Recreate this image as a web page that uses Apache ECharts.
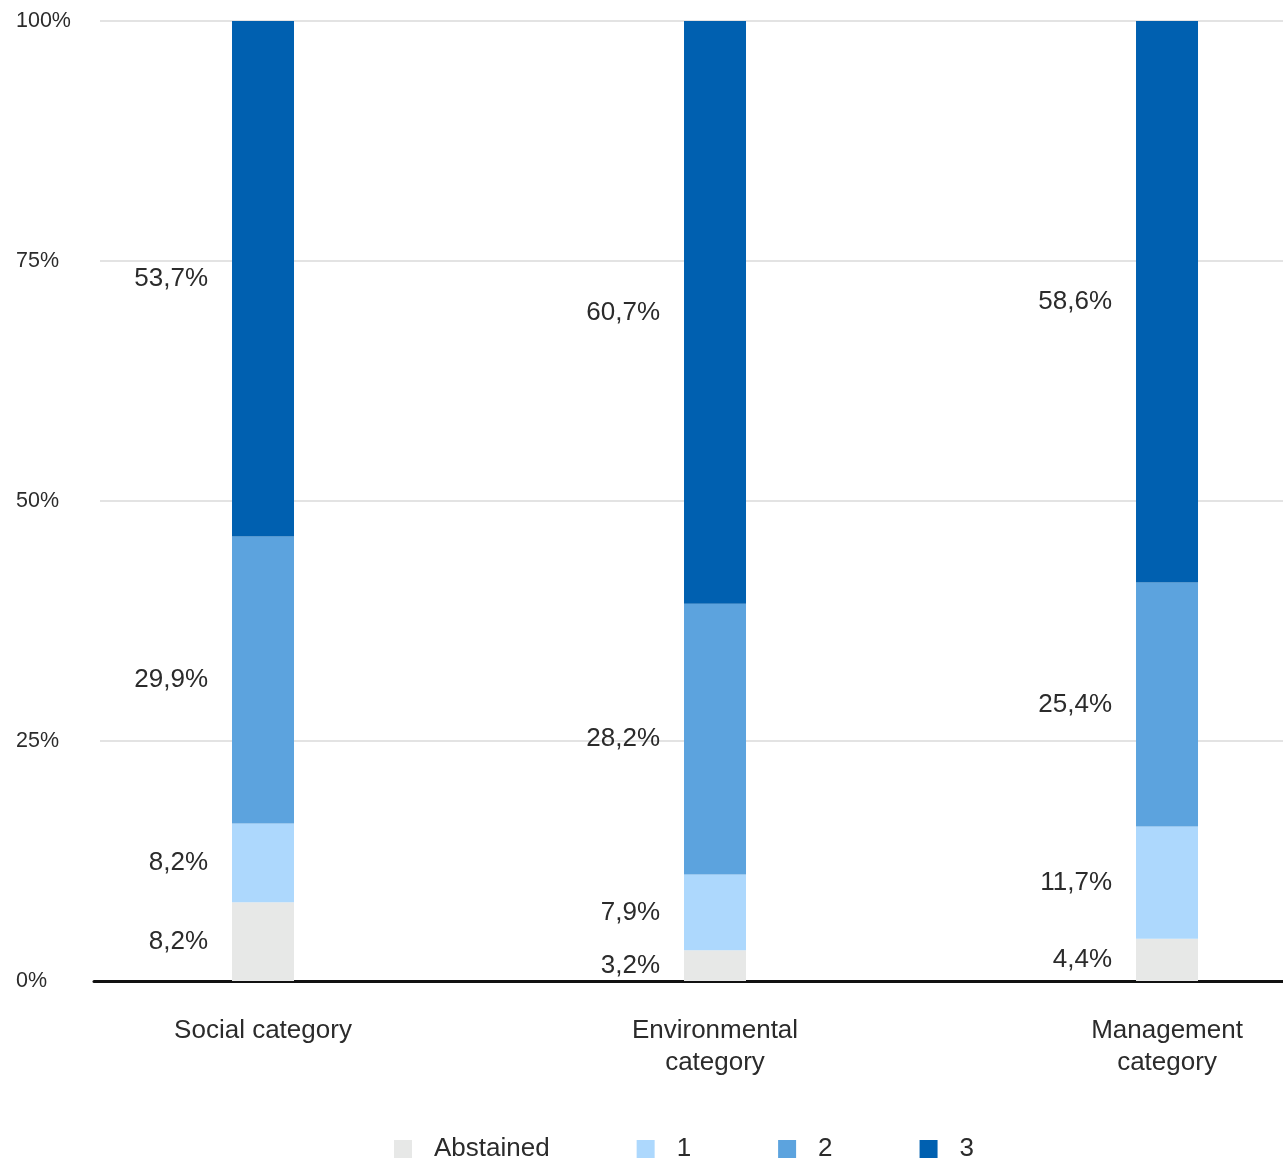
<!DOCTYPE html>
<html>
<head>
<meta charset="utf-8">
<script src="https://cdn.jsdelivr.net/npm/echarts@6/dist/echarts.min.js"></script>
<style>
  html, body { margin: 0; padding: 0; background: #ffffff; }
  #chart { width: 1283px; height: 1158px; }
</style>
</head>
<body>
<div id="chart"></div>
<script>
// Categories and stacked shares (percent)
const categories = ['Social category', 'Environmental\ncategory', 'Management\ncategory'];
const seriesNames = ['Abstained', '1', '2', '3'];
const abstained = [8.2, 3.2, 4.4];
const score1 = [8.2, 7.9, 11.7];
const score2 = [29.9, 28.2, 25.4];
const score3 = [53.7, 60.7, 58.6];
const yTicks = [0, 25, 50, 75, 100];

const colors = ['#e7e8e7', '#add8fd', '#5ca3de', '#0060b0'];
const FONT = '"Liberation Sans", Arial, sans-serif';
const TEXT = '#2b2b2b';

const values = [abstained, score1, score2, score3];

const chart = echarts.init(document.getElementById('chart'), null, { renderer: 'canvas' });

// Each point is [share, category position]; the share column comes first so
// it is the dimension that gets stacked.
const series = seriesNames.map((name, i) => ({
  name: name,
  type: 'bar',
  stack: 'total',
  xAxisIndex: 1,
  yAxisIndex: 1,
  barWidth: 62,
  encode: { x: 1, y: 0 },
  itemStyle: { color: colors[i] },
  label: {
    show: true,
    position: 'left',
    distance: 24,
    fontFamily: FONT,
    fontSize: 26,
    color: TEXT,
    formatter: p => p.value[0].toFixed(1).replace('.', ',') + '%'
  },
  data: values[i].map((v, k) => [v, k])
}));

chart.setOption({
  animation: false,
  backgroundColor: '#ffffff',
  textStyle: { fontFamily: FONT },
  grid: [
    // percent scale with gridlines
    { left: 100, right: 0, top: 21, bottom: 177 },
    // bars, category labels and baseline
    { left: 94, right: 0, top: 21, bottom: 177 }
  ],
  legend: {
    data: seriesNames,
    left: 394,
    top: 1136,
    padding: 0,
    icon: 'rect',
    itemWidth: 18,
    itemHeight: 18,
    itemGap: 87,
    textStyle: {
      fontFamily: FONT,
      fontSize: 26,
      color: TEXT,
      padding: [0, 0, 0, 17]
    }
  },
  xAxis: [
    { gridIndex: 0, type: 'value', min: 0, max: 1, show: false },
    {
      gridIndex: 1,
      type: 'value',
      // category k sits at position k; the band is 452px wide
      min: -0.3739,
      max: 2.2566,
      splitLine: { show: false },
      axisTick: { show: false },
      axisLine: { show: true, onZero: false, lineStyle: { color: '#111111', width: 3 } },
      axisLabel: {
        customValues: [0, 1, 2],
        margin: 34,
        fontFamily: FONT,
        fontSize: 26,
        lineHeight: 32,
        color: TEXT,
        formatter: v => categories[Math.round(v)] || ''
      }
    }
  ],
  yAxis: [
    {
      gridIndex: 0,
      type: 'value',
      min: yTicks[0],
      max: yTicks[yTicks.length - 1],
      interval: 25,
      axisLine: { show: false },
      axisTick: { show: false },
      splitLine: { show: true, lineStyle: { color: '#e3e3e3', width: 2 } },
      axisLabel: {
        align: 'left',
        margin: 84,
        fontFamily: FONT,
        fontSize: 21.5,
        color: TEXT,
        formatter: '{value}%'
      }
    },
    { gridIndex: 1, type: 'value', min: 0, max: 100, show: false }
  ],
  series: series
});
</script>
</body>
</html>
